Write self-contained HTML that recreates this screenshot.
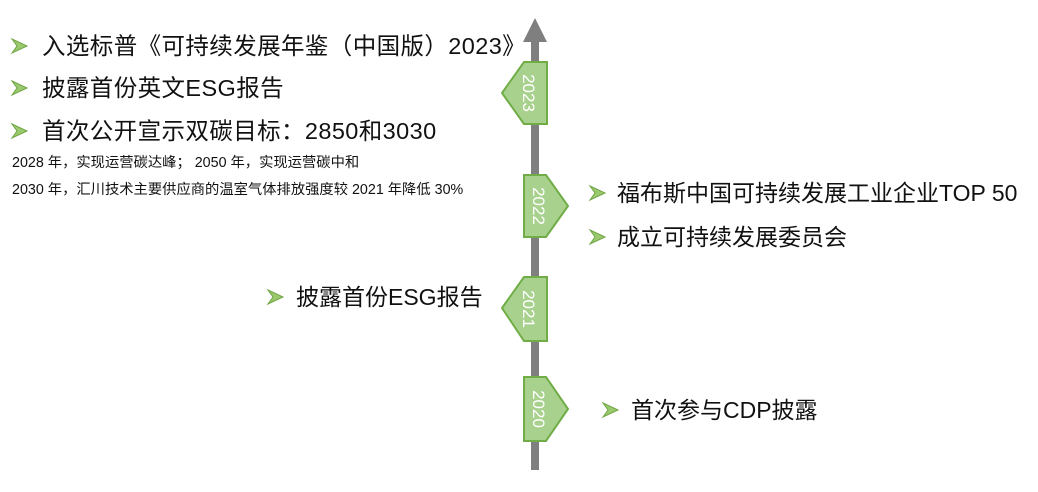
<!DOCTYPE html>
<html><head><meta charset="utf-8"><style>
body{margin:0;width:1038px;height:492px;background:#fff;position:relative;overflow:hidden;font-family:"Liberation Sans","Noto Sans CJK SC",sans-serif;color:#111}
.t{position:absolute;white-space:nowrap;font-size:23px;line-height:1;}
.l{font-size:23.5px;letter-spacing:0.4px}
.s{position:absolute;white-space:nowrap;font-size:14.3px;line-height:1;}
</style></head><body>
<svg width="1038" height="492" style="position:absolute;left:0;top:0">
<rect x="531" y="40" width="8" height="430" fill="#7f7f7f"/>
<polygon points="535,18 523,42 547,42" fill="#7f7f7f"/>
<g fill="#a9d18e" stroke="#70ad47" stroke-width="2">
<polygon points="524,62 547,62 547,124 524,124 502,93"/>
<polygon points="524,175 546,175 568,206 546,237 524,237"/>
<polygon points="524,277 547,277 547,341 524,341 502,308"/>
<polygon points="524,377 546,377 568,409 546,441 524,441"/>
</g>
<g fill="#fff" font-family="Liberation Sans, sans-serif" font-size="17" text-anchor="middle">
<text transform="translate(529,93) rotate(90)" dy="6">2023</text>
<text transform="translate(539,206) rotate(90)" dy="6">2022</text>
<text transform="translate(529,309) rotate(90)" dy="6">2021</text>
<text transform="translate(539,409) rotate(90)" dy="6">2020</text>
</g>
<defs><g id="bu"><polygon points="0,0 15,7 0,14 5,7" fill="#9bc96e" stroke="#6fa544" stroke-width="1"/></g></defs>
<use href="#bu" x="12" y="39"/>
<use href="#bu" x="12" y="81"/>
<use href="#bu" x="12" y="124"/>
<use href="#bu" x="590" y="186"/>
<use href="#bu" x="590" y="230"/>
<use href="#bu" x="268" y="290"/>
<use href="#bu" x="603" y="403"/>
</svg>
<div class="t l" style="left:42px;top:35px">入选标普《可持续发展年鉴（中国版）2023》</div>
<div class="t l" style="left:42px;top:77px">披露首份英文ESG报告</div>
<div class="t l" style="left:42px;top:120px">首次公开宣示双碳目标：2850和3030</div>
<div class="s" style="left:12px;top:156px">2028 年，实现运营碳达峰； 2050 年，实现运营碳中和</div>
<div class="s" style="left:12px;top:183px">2030 年，汇川技术主要供应商的温室气体排放强度较 2021 年降低 30%</div>
<div class="t" style="left:617px;top:182px">福布斯中国可持续发展工业企业TOP 50</div>
<div class="t" style="left:617px;top:226px">成立可持续发展委员会</div>
<div class="t" style="left:296px;top:286px">披露首份ESG报告</div>
<div class="t" style="left:631px;top:399px">首次参与CDP披露</div>
</body></html>
